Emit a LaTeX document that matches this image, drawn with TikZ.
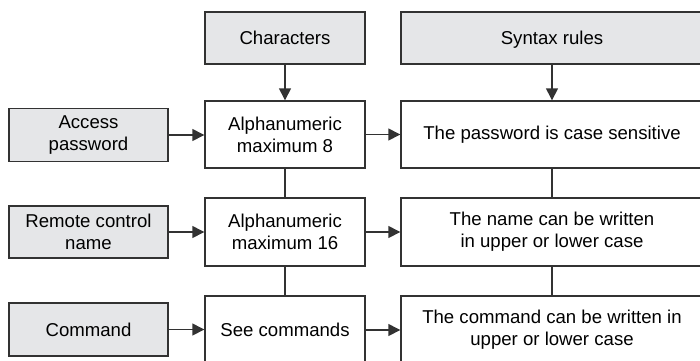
\documentclass[tikz,border=0pt]{standalone}
\usepackage{fontspec}
\setmainfont{Liberation Sans}
\usetikzlibrary{arrows.meta,positioning}
\definecolor{boxgray}{RGB}{229,230,232}
\definecolor{boxline}{RGB}{50,50,50}
\begin{document}
\begin{tikzpicture}[x=.5pt,y=-.5pt,font=\fontsize{9.3}{11}\selectfont,
  box/.style={draw=boxline,line width=.7pt,align=center,inner sep=0pt},
  headbox/.style={box,fill=boxgray,text height=1.6ex,text depth=.4ex},
  itembox/.style={box,fill=boxgray,minimum width=79.5pt,minimum height=26.5pt},
  midbox/.style={box,fill=white,minimum width=80pt,minimum height=34pt},
  rulebox/.style={box,fill=white,minimum width=151pt,minimum height=34pt},
  arr/.style={-{Triangle[length=6pt,width=6pt]},line width=.7pt,draw=boxline},
  link/.style={line width=.7pt,draw=boxline}]
\useasboundingbox (0,0) rectangle (700,360);
\clip (0,0) rectangle (700,360);
% headers
\node[headbox,minimum width=80pt,minimum height=26pt] (chars) at (285,38) {Characters};
\node[headbox,minimum width=151pt,minimum height=26pt] (syntax) at (552,38) {Syntax rules};
% rows
\node[itembox] (item1) at (88.5,135) {Access\\password};
\node[midbox,minimum height=33.5pt] (len1) at (285,134.5) {Alphanumeric\\maximum 8};
\node[rulebox,minimum height=33.5pt] (rule1) at (552,134.5) {The password is case sensitive};
\node[itembox,minimum height=26pt] (item2) at (88.5,232) {Remote control\\name};
\node[midbox] (len2) at (285,232) {Alphanumeric\\maximum 16};
\node[rulebox] (rule2) at (552,232) {The name can be written\\in upper or lower case};
\node[itembox] (item3) at (88.5,329.5) {Command};
\node[midbox] (len3) at (285,330) {See commands};
\node[rulebox] (rule3) at (552,330) {The command can be written in\\upper or lower case};
% connectors
\draw[arr] (chars) -- (len1);
\draw[arr] (syntax) -- (rule1);
\foreach \i in {1,2,3}{
 \draw[arr] (item\i.east) -- (item\i.east -| len\i.west);
 \draw[arr] (len\i.east) -- (len\i.east -| rule\i.west);
}
\draw[link] (len1) -- (len2) (len2) -- (len3);
\draw[link] (rule1) -- (rule2) (rule2) -- (rule3);
\end{tikzpicture}
\end{document}
